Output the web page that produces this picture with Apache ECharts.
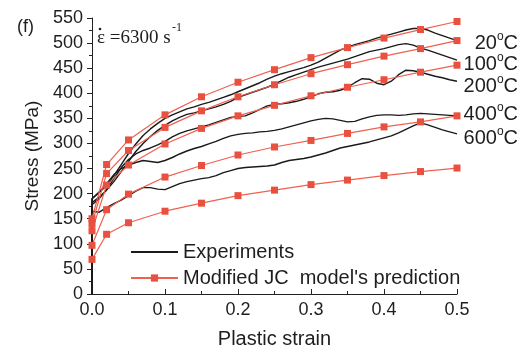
<!DOCTYPE html>
<html><head><meta charset="utf-8">
<script src="https://cdn.jsdelivr.net/npm/echarts@6/dist/echarts.min.js"></script>
<style>html,body{margin:0;padding:0;background:#fff}#c{width:527px;height:354px}</style>
</head><body><div id="c"></div>
<script>
// ---- data ----
const expStrain = [0, 0, 0.01, 0.02, 0.03, 0.04, 0.05, 0.06, 0.07, 0.08, 0.09, 0.10,
  0.11, 0.12, 0.13, 0.14, 0.15, 0.16, 0.17, 0.18, 0.19, 0.20,
  0.21, 0.22, 0.23, 0.24, 0.25, 0.26, 0.27, 0.28, 0.29, 0.30,
  0.31, 0.32, 0.33, 0.34, 0.35, 0.36, 0.37, 0.38, 0.39, 0.40,
  0.41, 0.42, 0.43, 0.44, 0.45, 0.46, 0.47, 0.48, 0.49, 0.50];
const exp20 = [0, 190, 203, 216, 236, 258, 280, 299, 316, 329, 340, 350,
  357, 363, 369, 373, 378, 382, 387, 392, 397, 403,
  409, 415, 421, 428, 434, 439, 443, 447, 451, 456,
  462, 470, 478, 486, 492, 497, 501, 505, 510, 514,
  518, 522, 526, 529, 529, 526, 520, 515, 510, 505];
const exp100 = [0, 182, 193, 207, 224, 244, 264, 284, 300, 314, 326, 336,
  345, 352, 358, 361, 365, 369, 373, 378, 384, 392,
  397, 402, 407, 412, 418, 425, 432, 437, 442, 447,
  452, 456, 460, 464, 468, 473, 478, 483, 486, 489,
  493, 497, 499, 496, 490, 486, 481, 476, 471, 466];
const exp200 = [0, 178, 190, 208, 230, 252, 268, 279, 286, 291, 297, 304,
  313, 320, 325, 329, 333, 337, 342, 347, 352, 354,
  355, 361, 368, 375, 378, 379, 381, 384, 388, 393,
  399, 402, 403, 406, 412, 421, 429, 428, 420, 417,
  424, 437, 446, 445, 442, 438, 434, 431, 427, 424];
const exp400 = [0, 190, 203, 220, 238, 250, 257, 262, 266, 264, 262, 266,
  272, 279, 285, 290, 294, 299, 304, 310, 315, 318,
  320, 321, 323, 324, 326, 329, 333, 337, 341, 345,
  348, 350, 349, 346, 343, 344, 349, 353, 356, 357,
  357, 356, 357, 359, 360, 359, 358, 357, 356, 355];
const exp600 = [0, 165, 163, 172, 180, 187, 196, 205, 212, 212, 209, 208,
  214, 220, 224, 227, 230, 232, 236, 242, 246, 250,
  252, 253, 254, 255, 257, 262, 266, 268, 270, 273,
  277, 281, 286, 291, 294, 297, 300, 303, 307, 311,
  315, 321, 328, 335, 341, 337, 332, 327, 323, 319];

const modelStrain = [0, 0.02, 0.05, 0.10, 0.15, 0.20, 0.25, 0.30, 0.35, 0.40, 0.45, 0.50];
const model20  = [150, 258, 307, 357, 393, 422, 447, 471, 491, 510, 527, 543];
const model100 = [140, 240, 286, 332, 365, 393, 417, 439, 457, 474, 489, 505];
const model200 = [126, 217, 257, 299, 330, 355, 376, 395, 412, 427, 442, 456];
const model400 = [97, 168, 199, 233, 256, 277, 293, 306, 320, 333, 343, 355];
const model600 = [69, 119, 142, 165, 181, 196, 207, 218, 227, 236, 244, 251];

const tempLabels = ['20', '100', '200', '400', '600'];
const expName = 'Experiments';
const modelName = "Modified JC  model's prediction";
const xTitle = 'Plastic strain';
const yTitle = 'Stress (MPa)';

// ---- chart ----
const SANS = 'Liberation Sans, Arial, sans-serif';
const SERIF = 'Liberation Serif, Times New Roman, serif';
const TXT = '#1e1e1e';
const pair = (xs, ys) => xs.map((x, i) => [x, ys[i]]);

const expSets = [exp20, exp100, exp200, exp400, exp600];
const modelSets = [model20, model100, model200, model400, model600];

const series = [];
expSets.forEach(ys => series.push({
  name: expName, type: 'line', data: pair(expStrain, ys),
  symbol: 'none', lineStyle: { color: '#1a1a1a', width: 1.4 },
  itemStyle: { color: '#1a1a1a' }, z: 2
}));
modelSets.forEach(ys => series.push({
  name: modelName, type: 'line', data: pair(modelStrain, ys),
  symbol: 'rect', symbolSize: 7, showSymbol: true,
  lineStyle: { color: '#f0604f', width: 1.2 },
  itemStyle: { color: '#e8503f' }, z: 3
}));

const tempY = [42, 63, 85, 113, 137];
const graphics = tempLabels.map((t, i) => ({
  type: 'text', x: 518, y: tempY[i],
  style: {
    text: '{t|' + t + '}{s|o}{t|C}',
    align: 'right', verticalAlign: 'middle',
    rich: {
      t: { fontSize: 20, fontFamily: SANS, fill: TXT, lineHeight: 22, verticalAlign: 'bottom' },
      s: { fontSize: 12, fontFamily: SANS, fill: TXT, lineHeight: 12, verticalAlign: 'top' }
    }
  }
}));
graphics.push(
  { type: 'text', x: 17, y: 27, style: { text: '(f)', fontSize: 18, fontFamily: SANS, fill: TXT, verticalAlign: 'middle' } },
  { type: 'text', x: 97, y: 38.5, style: { text: 'ε =6300 s', fontSize: 19, fontFamily: SERIF, fill: TXT, verticalAlign: 'middle' } },
  { type: 'text', x: 172, y: 28, style: { text: '-1', fontSize: 12, fontFamily: SERIF, fill: TXT, verticalAlign: 'middle' } },
  { type: 'circle', shape: { cx: 100, cy: 29, r: 1.3 }, style: { fill: TXT } }
);

const chart = echarts.init(document.getElementById('c'), null, { renderer: 'canvas' });
chart.setOption({
  animation: false,
  backgroundColor: '#fff',
  grid: { left: 92, right: 70, top: 18, bottom: 57 },
  legend: {
    orient: 'vertical', left: 125, top: 236,
    data: [{ name: expName, itemStyle: { opacity: 0 } }, modelName],
    itemWidth: 47, itemHeight: 9, itemGap: 4,
    textStyle: { fontSize: 20, fontFamily: SANS, color: TXT, lineHeight: 22 }
  },
  xAxis: {
    type: 'value', min: 0, max: 0.5, interval: 0.1,
    name: xTitle, nameLocation: 'middle', nameGap: 35,
    nameTextStyle: { fontSize: 20, fontFamily: SANS, color: TXT },
    axisLine: { show: true, lineStyle: { color: '#222', width: 1 } },
    axisTick: { show: true, inside: true, length: 5, lineStyle: { color: '#222' } },
    minorTick: { show: true, splitNumber: 2, length: 3, lineStyle: { color: '#222' } },
    splitLine: { show: false },
    axisLabel: { fontSize: 18, fontFamily: SANS, color: TXT, margin: 7, formatter: v => v.toFixed(1) }
  },
  yAxis: {
    type: 'value', min: 0, max: 550, interval: 50,
    name: yTitle, nameLocation: 'middle', nameGap: 48,
    nameTextStyle: { fontSize: 19, fontFamily: SANS, color: TXT },
    axisLine: { show: true, lineStyle: { color: '#222', width: 1 } },
    axisTick: { show: true, inside: false, length: 5, lineStyle: { color: '#222' } },
    minorTick: { show: true, splitNumber: 2, length: 3, lineStyle: { color: '#222' } },
    splitLine: { show: false },
    axisLabel: { fontSize: 18, fontFamily: SANS, color: TXT, margin: 9 }
  },
  graphic: graphics,
  series: series
});
</script>
</body></html>
